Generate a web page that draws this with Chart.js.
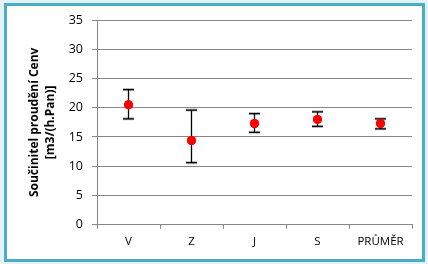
<!DOCTYPE html>
<html>
<head>
<meta charset="utf-8">
<script src="https://cdn.jsdelivr.net/npm/chart.js@4.4.1/dist/chart.umd.min.js"></script>
<style>
  html, body { margin: 0; padding: 0; width: 428px; height: 264px; background: #e4f2f7; overflow: hidden; }
  #frame { position: absolute; left: 4px; top: 3px; width: 415px; height: 253px; border: 3px solid #4bacc6; background: #ffffff; }
  #c { position: absolute; left: 0; top: 0; }
</style>
</head>
<body>
<div id="frame"></div>
<canvas id="c" width="428" height="264"></canvas>
<script>
const categories = ['V', 'Z', 'J', 'S', 'PRŮMĚR'];
const meanValues = [20.5, 14.4, 17.3, 18.0, 17.3];
const upperValues = [23.1, 19.6, 19.0, 19.3, 18.1];
const lowerValues = [18.1, 10.6, 15.8, 16.8, 16.4];
const yTicks = [0, 5, 10, 15, 20, 25, 30, 35];
const yTitle = ['Součinitel proudění Cenv', '[m3/(h.Pan)]'];

const errorBars = {
  id: 'errorBars',
  afterDatasetsDraw(chart) {
    const ctx = chart.ctx;
    const xs = chart.scales.x, ys = chart.scales.y;
    ctx.save();
    categories.forEach((c, i) => {
      const x = xs.getPixelForValue(i);
      const yt = ys.getPixelForValue(upperValues[i]);
      const yb = ys.getPixelForValue(lowerValues[i]);
      const hw = 5.5;
      ctx.strokeStyle = 'rgba(140,140,140,0.6)';
      ctx.lineWidth = 3;
      ctx.beginPath();
      ctx.moveTo(x - hw, yt); ctx.lineTo(x + hw, yt);
      ctx.moveTo(x - hw, yb); ctx.lineTo(x + hw, yb);
      ctx.stroke();
      ctx.strokeStyle = '#000000';
      ctx.lineWidth = 1.3;
      ctx.beginPath();
      ctx.moveTo(x, yt); ctx.lineTo(x, yb);
      ctx.moveTo(x - hw, yt); ctx.lineTo(x + hw, yt);
      ctx.moveTo(x - hw, yb); ctx.lineTo(x + hw, yb);
      ctx.stroke();
    });
    ctx.restore();
    const meta = chart.getDatasetMeta(0);
    meta.data.forEach(p => p.draw(ctx, chart.chartArea));
  }
};

new Chart(document.getElementById('c'), {
  type: 'line',
  data: {
    labels: categories,
    datasets: [{
      data: meanValues,
      showLine: false,
      pointRadius: 4.5,
      pointHoverRadius: 4.5,
      pointBackgroundColor: '#ff0000',
      pointBorderColor: '#ff0000',
      pointBorderWidth: 0
    }]
  },
  options: {
    responsive: false,
    animation: false,
    events: [],
    layout: { padding: { left: 22, right: 16, top: 20, bottom: 9.5 } },
    plugins: { legend: { display: false }, tooltip: { enabled: false } },
    scales: {
      x: {
        type: 'category',
        offset: true,
        grid: { offset: true, drawOnChartArea: false, drawTicks: true, tickLength: 4, color: '#868686', lineWidth: 1 },
        border: { display: true, color: '#868686', width: 1 },
        ticks: { color: '#000000', padding: 6, font: { family: 'Open Sans', size: 11.5 } }
      },
      y: {
        min: 0, max: 35,
        afterBuildTicks(axis) { axis.ticks = yTicks.map(v => ({ value: v })); },
        afterFit(axis) { axis.width = 75; },
        grid: { color: '#868686', lineWidth: 1, tickLength: 5 },
        border: { display: true, color: '#868686', width: 1 },
        ticks: { color: '#000000', padding: 9, font: { family: 'Open Sans', size: 12.5 } },
        title: {
          display: true,
          text: yTitle,
          color: '#000000',
          padding: { top: 4, bottom: 0 },
          font: { family: 'Open Sans', size: 12, weight: 'bold', lineHeight: 1.35 }
        }
      }
    }
  },
  plugins: [errorBars]
});
</script>
</body>
</html>
